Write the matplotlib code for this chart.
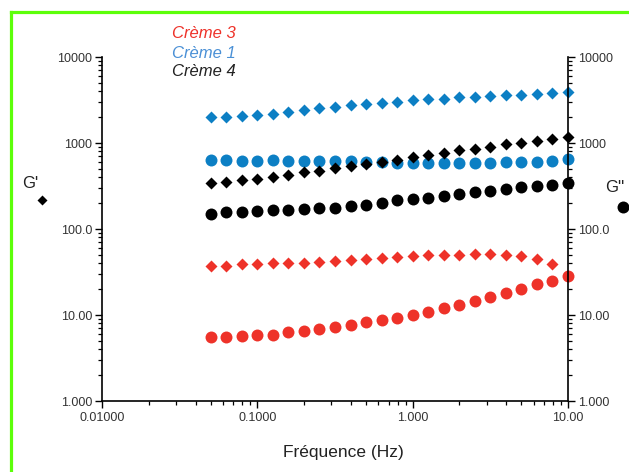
import matplotlib
matplotlib.use("Agg")
import matplotlib.pyplot as plt
from matplotlib.lines import Line2D
from matplotlib.ticker import LogLocator, NullFormatter, FixedLocator, FixedFormatter

plt.rcParams['font.family'] = ['Liberation Sans', 'DejaVu Sans']

# ---- data ----
freq = [0.05, 0.0629, 0.0792, 0.0998, 0.126, 0.158, 0.199, 0.251, 0.316, 0.398,
        0.501, 0.631, 0.794, 1.0, 1.26, 1.58, 2.0, 2.51, 3.16, 3.98, 5.01, 6.31,
        7.94, 10.0]

creme3_gp = [37.4, 37.1, 38.9, 38.9, 39.9, 39.9, 40.6, 41.7, 42.8, 43.3, 44.4, 46.4,
             47.6, 48.5, 49.4, 50.2, 50.2, 50.8, 50.8, 49.4, 48.5, 45.2, 39.2, None]
creme3_gpp = [5.51, 5.55, 5.70, 5.81, 5.90, 6.29, 6.57, 6.82, 7.25, 7.65, 8.22, 8.67,
              9.16, 10.0, 10.9, 11.97, 13.06, 14.66, 16.2, 18.2, 20.0, 22.7, 24.8, 28.4]

creme1_gp = [1990, 2005, 2043, 2116, 2175, 2275, 2388, 2520, 2643, 2744, 2840, 2942,
             3020, 3138, 3250, 3275, 3400, 3455, 3520, 3590, 3650, 3745, 3815, 3950]
creme1_gpp = [629, 629, 622, 622, 629, 622, 622, 622, 617, 612, 607, 597,
              581, 581, 581, 585, 585, 590, 590, 601, 601, 607, 612, 646]

creme4_gp = [343, 355, 368, 384, 399, 425, 456, 476, 508, 540, 565, 601,
             634, 687, 731, 771, 822, 851, 905, 973, 1008, 1054, 1104, 1183]
creme4_gpp = [148, 156, 159, 163, 166, 166, 169, 174, 177, 185, 189, 202,
              217, 223, 231, 240, 255, 269, 279, 294, 305, 319, 327, 345]

series_names = ["Crème 3", "Crème 1", "Crème 4"]
y_ticks = [1, 10, 100, 1000, 10000]
y_tick_labels = ["1.000", "10.00", "100.0", "1000", "10000"]
x_ticks = [0.01, 0.1, 1, 10]
x_tick_labels = ["0.01000", "0.1000", "1.000", "10.00"]

RED = '#EE3229'
BLUE = '#0C7FC4'
BLUE_TXT = '#4A90D6'
BLACK = '#000000'

W, H = 629, 472
fig = plt.figure(figsize=(W / 100, H / 100), dpi=100)
ax = fig.add_axes([102 / W, 1 - 401 / H, (568 - 102) / W, (401 - 57) / H])


def clean(v):
    return [float('nan') if a is None else a for a in v]


circ_ms = 8.6
dia_ms = 6.6
series = [
    (creme3_gp, creme3_gpp, RED),
    (creme1_gp, creme1_gpp, BLUE),
    (creme4_gp, creme4_gpp, BLACK),
]
for gp, gpp, col in series:
    ax.plot(freq, clean(gpp), linestyle='none', marker='o', ms=circ_ms,
            color=col, mec='none', clip_on=False)
    ax.plot(freq, clean(gp), linestyle='none', marker='D', ms=dia_ms,
            color=col, mec='none', clip_on=False)

ax.set_xscale('log')
ax.set_yscale('log')
ax.set_xlim(0.01, 10)
ax.set_ylim(1, 10000)

ax.xaxis.set_major_locator(FixedLocator(x_ticks))
ax.xaxis.set_major_formatter(FixedFormatter(x_tick_labels))
ax.yaxis.set_major_locator(FixedLocator(y_ticks))
ax.yaxis.set_major_formatter(FixedFormatter(y_tick_labels))
ax.xaxis.set_minor_locator(LogLocator(base=10, subs=range(2, 10), numticks=20))
ax.yaxis.set_minor_locator(LogLocator(base=10, subs=range(2, 10), numticks=20))
ax.xaxis.set_minor_formatter(NullFormatter())
ax.yaxis.set_minor_formatter(NullFormatter())

ax.spines['top'].set_visible(False)
for s in ['left', 'right', 'bottom']:
    ax.spines[s].set_linewidth(1.2)
    ax.spines[s].set_color('black')

ax.tick_params(axis='y', which='both', left=True, right=True, labelleft=True,
               labelright=True, direction='out')
ax.tick_params(axis='both', which='major', length=5, width=1.0, pad=2,
               labelsize=9, labelcolor='#333333')
ax.tick_params(axis='x', which='major', pad=3)
ax.tick_params(axis='both', which='minor', length=3, width=0.9)

fig.text(343 / W, 1 - 453 / H, "Fréquence (Hz)", ha='center', va='center',
         fontsize=12.5, color='#222222')

# Legend text
leg_cols = [RED, BLUE_TXT, '#222222']
leg_y = [34, 53, 72]
for name, c, yy in zip(series_names, leg_cols, leg_y):
    fig.text(172 / W, 1 - yy / H, name, ha='left', va='center', fontsize=12,
             style='italic', color=c)

# Axis labels with symbols
fig.text(30 / W, 1 - 183 / H, "G'", ha='center', va='center', fontsize=12,
         color='#222222')
fig.add_artist(Line2D([42 / W], [1 - 200 / H], transform=fig.transFigure,
                      marker='D', ms=5.6, color='black', mec='none', linestyle='none'))
fig.text(615 / W, 1 - 188 / H, "G''", ha='center', va='center', fontsize=12,
         color='#222222')
fig.add_artist(Line2D([623 / W], [1 - 207 / H], transform=fig.transFigure,
                      marker='o', ms=8.6, color='black', mec='none', linestyle='none'))

# Green frame (left and top)
GREEN = '#5CFF0A'
fig.add_artist(Line2D([10.5 / W, 10.5 / W], [0, 1 - 11.5 / H],
                      transform=fig.transFigure, color=GREEN, lw=2.3,
                      solid_capstyle='projecting'))
fig.add_artist(Line2D([10.5 / W, 1], [1 - 11.5 / H, 1 - 11.5 / H],
                      transform=fig.transFigure, color=GREEN, lw=2.3,
                      solid_capstyle='projecting'))

fig.savefig("out.png", dpi=100)
